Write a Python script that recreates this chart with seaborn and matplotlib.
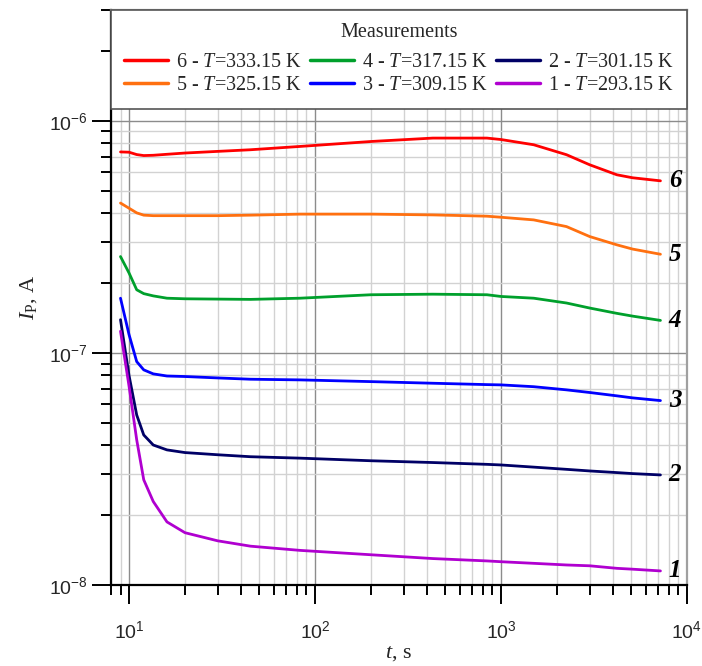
import numpy as np
import pandas as pd
import matplotlib
matplotlib.use("Agg")
import matplotlib.pyplot as plt
import matplotlib.ticker as mticker
import seaborn as sns

# Polarisation current vs. time at six temperatures
time_s = [9, 10, 11, 12, 13.5, 16, 20, 30, 45, 83, 200, 430, 840, 1000, 1500,
          2250, 3000, 4200, 5100, 7200]

current_6 = [7.34e-7, 7.32e-7, 7.15e-7, 7.08e-7, 7.10e-7, 7.17e-7, 7.26e-7,
             7.38e-7, 7.50e-7, 7.75e-7, 8.14e-7, 8.42e-7, 8.42e-7, 8.30e-7,
             7.88e-7, 7.14e-7, 6.46e-7, 5.85e-7, 5.68e-7, 5.51e-7]
current_5 = [4.42e-7, 4.20e-7, 4.01e-7, 3.92e-7, 3.90e-7, 3.90e-7, 3.90e-7,
             3.90e-7, 3.92e-7, 3.96e-7, 3.96e-7, 3.93e-7, 3.88e-7, 3.84e-7,
             3.74e-7, 3.50e-7, 3.17e-7, 2.92e-7, 2.80e-7, 2.66e-7]
current_4 = [2.60e-7, 2.21e-7, 1.87e-7, 1.80e-7, 1.76e-7, 1.72e-7, 1.71e-7,
             1.705e-7, 1.70e-7, 1.72e-7, 1.78e-7, 1.79e-7, 1.78e-7, 1.75e-7,
             1.72e-7, 1.64e-7, 1.56e-7, 1.48e-7, 1.44e-7, 1.38e-7]
current_3 = [1.72e-7, 1.20e-7, 9.17e-8, 8.45e-8, 8.12e-8, 7.95e-8, 7.91e-8,
             7.80e-8, 7.70e-8, 7.65e-8, 7.52e-8, 7.40e-8, 7.30e-8, 7.28e-8,
             7.15e-8, 6.93e-8, 6.75e-8, 6.53e-8, 6.40e-8, 6.23e-8]
current_2 = [1.39e-7, 8.00e-8, 5.40e-8, 4.43e-8, 4.01e-8, 3.82e-8, 3.72e-8,
             3.64e-8, 3.57e-8, 3.52e-8, 3.43e-8, 3.37e-8, 3.31e-8, 3.29e-8,
             3.22e-8, 3.15e-8, 3.10e-8, 3.05e-8, 3.02e-8, 2.98e-8]
current_1 = [1.24e-7, 7.20e-8, 4.22e-8, 2.84e-8, 2.29e-8, 1.87e-8, 1.68e-8,
             1.55e-8, 1.47e-8, 1.41e-8, 1.35e-8, 1.30e-8, 1.27e-8, 1.26e-8,
             1.24e-8, 1.22e-8, 1.21e-8, 1.18e-8, 1.17e-8, 1.15e-8]

curve_ids = ["6", "5", "4", "3", "2", "1"]
temperatures = ["333.15", "325.15", "317.15", "309.15", "301.15", "293.15"]
curve_colors = ["#ff0000", "#ff7010", "#00a02c", "#0000ff", "#000066", "#b000d0"]
series = [current_6, current_5, current_4, current_3, current_2, current_1]

labels = [rf"$\mathit{{{n}}}$ - $\mathit{{T}}$=" + f"{temp} K"
          for n, temp in zip(curve_ids, temperatures)]

frames = []
for lab, vals in zip(labels, series):
    frames.append(pd.DataFrame({"t": time_s, "I": vals, "curve": lab}))
df = pd.concat(frames, ignore_index=True)

sns.set_style("white")
plt.rcParams["font.family"] = ["Liberation Sans", "DejaVu Sans"]
plt.rcParams["mathtext.fontset"] = "custom"
plt.rcParams["mathtext.rm"] = "Liberation Serif"
plt.rcParams["mathtext.it"] = "Liberation Serif:italic"
plt.rcParams["mathtext.bf"] = "Liberation Serif:bold"

fig = plt.figure(figsize=(7.02, 6.66), dpi=100)
ax = fig.add_axes([0.1581, 0.1216, 0.8205, 0.8634])

sns.lineplot(data=df, x="t", y="I", hue="curve", hue_order=labels,
             palette=dict(zip(labels, curve_colors)), sort=False,
             linewidth=2.0, ax=ax, legend=True, zorder=3)

ax.set_xscale("log")
ax.set_yscale("log")
ax.set_xlim(8, 1e4)
ax.set_ylim(1e-8, 3e-6)

ax.xaxis.set_major_locator(mticker.LogLocator(base=10, numticks=10))
ax.xaxis.set_minor_locator(mticker.LogLocator(base=10, subs=np.arange(2, 10), numticks=20))
ax.yaxis.set_major_locator(mticker.LogLocator(base=10, numticks=10))
ax.yaxis.set_minor_locator(mticker.LogLocator(base=10, subs=np.arange(2, 10), numticks=20))
ax.xaxis.set_minor_formatter(mticker.NullFormatter())
ax.yaxis.set_minor_formatter(mticker.NullFormatter())

ax.grid(which="major", color="#8c8c8c", linewidth=1.0, zorder=0)
ax.grid(which="minor", color="#d2d2d2", linewidth=1.0, zorder=0)
ax.set_axisbelow(True)

ax.tick_params(which="major", direction="out", length=14, width=1.4,
               color="black", labelsize=14, left=True, bottom=True)
ax.tick_params(which="minor", direction="out", length=7, width=1.4,
               color="black", left=True, bottom=True)
ax.tick_params(axis="x", which="major", pad=11)
ax.tick_params(axis="y", which="major", pad=3)

for side in ("left", "bottom"):
    ax.spines[side].set_color("black")
    ax.spines[side].set_linewidth(1.6)
for side in ("right", "top"):
    ax.spines[side].set_color("#a0a0a0")
    ax.spines[side].set_linewidth(1.6)

ax.set_xlabel(r"$\mathit{t}$, s", fontsize=16, family="Liberation Serif")
ax.set_ylabel(r"$\mathit{I}_\mathrm{P}$, A", fontsize=16, family="Liberation Serif")
ax.xaxis.set_label_coords(0.5, -0.103)
ax.yaxis.set_label_coords(-0.125, 0.5)

# Curve numbers at the right-hand ends
for n, vals in zip(curve_ids, series):
    ax.annotate(n, xy=(time_s[-1], vals[-1]), xytext=(6, 0),
                textcoords="offset points", ha="left", va="center",
                family="Liberation Serif", style="italic", weight="bold",
                fontsize=18, color="black", zorder=5)

handles, hl = ax.get_legend_handles_labels()
leg = ax.legend(handles, hl, ncol=3, loc="upper left",
                bbox_to_anchor=(0, 0, 1, 1), mode="expand", borderaxespad=0,
                title="Measurements", frameon=True, fancybox=False,
                edgecolor="#555555", framealpha=1.0,
                prop={"family": "Liberation Serif", "size": 14.5},
                title_fontproperties={"family": "Liberation Serif", "size": 14.5},
                handlelength=2.2, handletextpad=0.4, labelspacing=0.2,
                borderpad=0.65, columnspacing=0.8)
leg._legend_box.sep = 8
leg.get_frame().set_linewidth(1.2)
for line in leg.get_lines():
    line.set_linewidth(2.5)
leg.set_zorder(10)

fig.savefig("out.png", dpi=100)
